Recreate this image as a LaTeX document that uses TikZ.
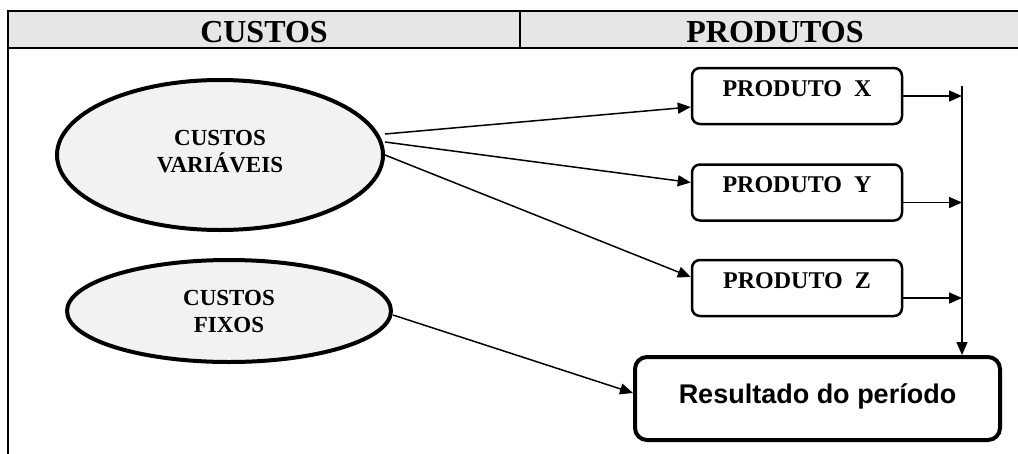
\documentclass[tikz,border=0pt]{standalone}
\usepackage{fontspec}
\setmainfont{Liberation Serif}
\newfontfamily\arialf{Liberation Sans}
\usetikzlibrary{arrows.meta,shapes.geometric}
\definecolor{hdrgray}{HTML}{E6E6E6}
\definecolor{ellgray}{HTML}{F2F2F2}
\tikzset{
  hdrtext/.style={anchor=base,font=\bfseries\fontsize{32}{38}\selectfont,inner sep=0pt},
  costell/.style={ellipse,draw,line width=4pt,fill=ellgray,align=center,inner sep=0pt,
    font=\bfseries\fontsize{23}{27}\selectfont},
  prodbox/.style={draw,rounded corners=8pt,line width=2.5pt,inner sep=0pt,
    minimum width=210pt,text height=28pt,text depth=28pt,
    font=\bfseries\fontsize{24}{28}\selectfont},
  resbox/.style={draw,rounded corners=12pt,line width=4pt,inner sep=0pt,
    minimum width=365pt,text height=46pt,text depth=37pt,
    font=\arialf\bfseries\fontsize{27}{32}\selectfont},
  arr/.style={line width=1.5pt,-{Triangle[length=13pt,width=11pt]}},
  rule/.style={line width=2pt},
}
\begin{document}
\begin{tikzpicture}[x=1pt,y=-1pt]
\useasboundingbox (0,0) rectangle (1018,453);
% header table
\fill[hdrgray] (8,11) rectangle (1030,48);
\draw[rule] (7,11) -- (1030,11);
\draw[rule] (7,48) -- (1030,48);
\draw[rule] (520,11) -- (520,48);
\draw[line width=2.6pt] (8,10) -- (8,460);
\node[hdrtext] (hc) at (264,42) {CUSTOS};
\node[hdrtext] (hp) at (775,42) {PRODUTOS};
% ellipses
\node[costell,minimum width=326pt,minimum height=150pt] (v) at (220,155)
  {CUSTOS\\VARIÁVEIS\rule[-8pt]{0pt}{8pt}};
\node[costell,minimum width=324pt,minimum height=102pt] (f) at (229,311)
  {CUSTOS\\FIXOS};
% product boxes
\node[prodbox] (px) at (797,96) {PRODUTO\hspace{0.5em}X};
\node[prodbox] (py) at (797,192.5) {PRODUTO\hspace{0.5em}Y};
\node[prodbox] (pz) at (797,288) {PRODUTO\hspace{0.5em}Z};
% result
\node[resbox] (res) at (817.5,398.5) {Resultado do período};
% arrows from variable costs
\draw[arr] ([yshift=21pt]v.east) -- ([yshift=-11pt]px.west);
\draw[arr] ([yshift=13pt]v.east) -- ([yshift=10pt]py.west);
\draw[arr] (v.east) -- ([yshift=11pt]pz.west);
% fixed costs to result
\draw[arr] ([yshift=-4pt]f.east) -- ([yshift=5.5pt]res.west);
% bus
\coordinate (bus) at (962,86);
\coordinate (pxo) at (px.east);
\coordinate (pyo) at ([yshift=-10pt]py.east);
\coordinate (pzo) at ([yshift=-10pt]pz.east);
\draw[arr] (pxo) -- (pxo -| bus);
\draw[arr] (pyo) -- (pyo -| bus);
\draw[arr] (pzo) -- (pzo -| bus);
\draw[arr] (bus) -- (bus |- res.north);
\end{tikzpicture}
\end{document}
